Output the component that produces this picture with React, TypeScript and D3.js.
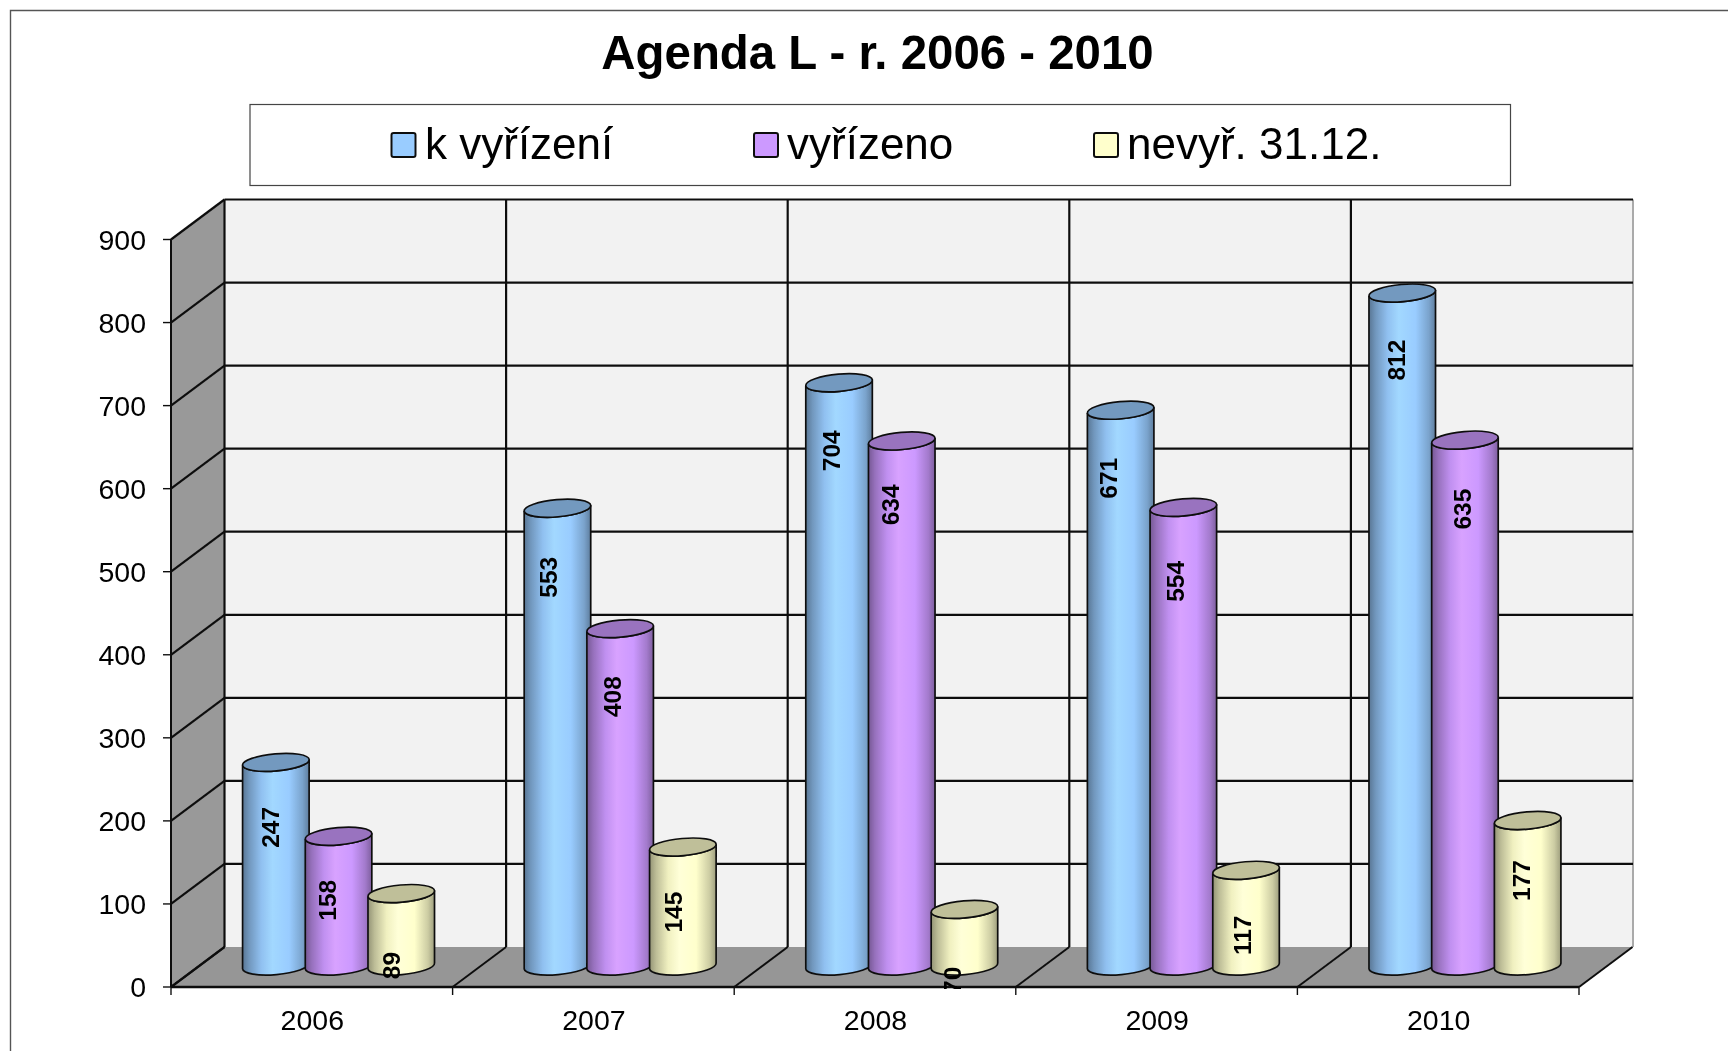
import React from "react";
import * as d3 from "d3";

const title = "Agenda L - r. 2006 - 2010";
const years = ["2006", "2007", "2008", "2009", "2010"];
const seriesNames = ["k vyřízení", "vyřízeno", "nevyř. 31.12."];
const kVyrizeni = [247, 553, 704, 671, 812];
const vyrizeno = [158, 408, 634, 554, 635];
const nevyr = [89, 145, 70, 117, 177];
const yTicks = [0, 100, 200, 300, 400, 500, 600, 700, 800, 900];

const seriesValues = [kVyrizeni, vyrizeno, nevyr];
const baseColors = ["#99ccff", "#cc99ff", "#ffffcc"];

// layout
const legendSwatchX = [391.5, 754, 1094];
const legendTextX = [425, 787, 1127];
const labelNudgeX = [[0, -6, -5], [-4, -3, -4], [-3, -6, -6.5], [-7, -3, 1], [-1, 3, -1]];
const labelNudgeY = [[-2, -3, 5], [2, 1, -2], [1, -3, 4], [1, 7, -2], [0, 2, -7]];

const FRONT_L = 171, FRONT_R = 1579, FRONT_B = 987, FRONT_T = 239.5;
const DX = 53.5, DY = -40;
const BAR_STEP = 62.7, RX = 33.4, RY = 8.6, TILT = 5;

const x = d3.scaleBand<string>().domain(years).range([FRONT_L, FRONT_R]).paddingInner(0).paddingOuter(0);
const y = d3.scaleLinear().domain([0, 900]).range([FRONT_B, FRONT_T]);
const sOff = d3.scaleLinear().domain([0, 2]).range([-BAR_STEP, BAR_STEP]);

const mult = (c: string, k: number) => {
  const r = d3.rgb(c);
  return d3.rgb(Math.min(255, r.r * k), Math.min(255, r.g * k), Math.min(255, r.b * k)).formatHex();
};

function Cylinder({ cx, base, top, color, id }: any) {
  const a = (TILT * Math.PI) / 180;
  const ex = RX * Math.cos(a), ey = RX * Math.sin(a);
  const d =
    `M${cx - ex},${top + ey} L${cx - ex},${base + ey} ` +
    `A${RX},${RY} ${-TILT} 0 0 ${cx + ex},${base - ey} ` +
    `L${cx + ex},${top - ey} A${RX},${RY} ${-TILT} 0 1 ${cx - ex},${top + ey} Z`;
  return (
    <g>
      <path d={d} fill={`url(#${id})`} stroke="#111" strokeWidth={1.7} />
      <ellipse cx={cx} cy={top} rx={RX} ry={RY} transform={`rotate(${-TILT} ${cx} ${top})`}
        fill={mult(color, 0.75)} stroke="#111" strokeWidth={1.7} />
    </g>
  );
}

export default function App() {
  const backL = FRONT_L + DX, backR = FRONT_R + DX + 0.5, backB = FRONT_B + DY, backT = FRONT_T + DY;
  const edges = [...years.map((c) => x(c) as number), FRONT_R];
  const font = "'Liberation Sans', Arial, sans-serif";
  return (
    <svg width={1728} height={1051} style={{ position: "absolute", left: 0, top: 0, display: "block", background: "#fff" }} fontFamily={font}>
      <defs>
        {baseColors.map((c, i) => (
          <linearGradient key={i} id={`g${i}`} x1="0" x2="1" y1="0" y2="0">
            <stop offset="0" stopColor={mult(c, 0.58)} />
            <stop offset="0.1" stopColor={mult(c, 0.74)} />
            <stop offset="0.28" stopColor={mult(c, 0.94)} />
            <stop offset="0.45" stopColor={mult(c, 1.06)} />
            <stop offset="0.7" stopColor={mult(c, 1.0)} />
            <stop offset="0.9" stopColor={mult(c, 0.8)} />
            <stop offset="1" stopColor={mult(c, 0.62)} />
          </linearGradient>
        ))}
        <clipPath id="labelClip"><rect x={0} y={0} width={1728} height={FRONT_B + 2} /></clipPath>
        <filter id="soft" x="0" y="0" width="100%" height="100%" filterUnits="userSpaceOnUse" primitiveUnits="userSpaceOnUse">
          <feGaussianBlur stdDeviation={0.45} />
        </filter>
      </defs>
      <rect width={1728} height={1051} fill="#fff" />
      <g filter="url(#soft)">
        <path d="M10.5,1051 V10.5 H1728" fill="none" stroke="#555" strokeWidth={1.4} />

        <text x={877.5} y={69} textAnchor="middle" fontSize={47.4} fontWeight="bold">{title}</text>

        <rect x={250} y={104.5} width={1260.5} height={81} fill="#fff" stroke="#444" strokeWidth={1.2} />
        {seriesNames.map((n, i) => (
          <g key={n}>
            <rect x={legendSwatchX[i]} y={133} width={24} height={24} rx={2} fill={baseColors[i]} stroke="#111" strokeWidth={2} />
            <text x={legendTextX[i]} y={158.7} fontSize={44}>{n}</text>
          </g>
        ))}

        <rect x={backL} y={backT} width={backR - backL} height={backB - backT} fill="#f2f2f2" />
        <polygon points={`${FRONT_L},${FRONT_T} ${backL},${backT} ${backL},${backB} ${FRONT_L},${FRONT_B}`} fill="#999999" />
        <polygon points={`${FRONT_L},${FRONT_B} ${backL},${backB} ${backR},${backB} ${FRONT_R},${FRONT_B}`} fill="#969696" />
        <line x1={backR} x2={backR} y1={backT} y2={backB} stroke="#aaa" strokeWidth={2} />

        {yTicks.map((t) => (
          <g key={t} stroke="#111" strokeWidth={2.2} fill="none">
            {t > 0 && <line x1={backL} x2={backR} y1={y(t) + DY} y2={y(t) + DY} />}
            <line x1={FRONT_L} x2={backL} y1={y(t)} y2={y(t) + DY} />
            <line x1={FRONT_L - 8} x2={FRONT_L} y1={y(t)} y2={y(t)} strokeWidth={1.4} />
          </g>
        ))}
        {edges.map((e, i) => (
          <g key={i} stroke="#111" fill="none">
            {i < edges.length - 1 && <line x1={e + DX} x2={e + DX} y1={backT} y2={backB} strokeWidth={2.2} />}
            <line x1={e} x2={e + DX} y1={FRONT_B} y2={backB} strokeWidth={2} />
            <line x1={e} x2={e} y1={FRONT_B} y2={FRONT_B + 8} strokeWidth={1.4} />
          </g>
        ))}
        <line x1={FRONT_L} x2={FRONT_L} y1={FRONT_T} y2={FRONT_B} stroke="#111" strokeWidth={2} />
        <line x1={FRONT_L} x2={FRONT_R} y1={FRONT_B} y2={FRONT_B} stroke="#111" strokeWidth={2.4} />

        {years.map((yr, ci) => {
          const center = (x(yr) as number) + x.bandwidth() / 2 + DX / 2;
          return (
            <g key={yr}>
              {seriesValues.map((vals, si) => (
                <Cylinder key={si} cx={center + sOff(si)} base={y(0) + DY / 2 - 1}
                  top={y(vals[ci]) + DY / 2 + 0.5} color={baseColors[si]} id={`g${si}`} />
              ))}
            </g>
          );
        })}
        <g clipPath="url(#labelClip)">
          {years.map((yr, ci) => {
            const center = (x(yr) as number) + x.bandwidth() / 2 + DX / 2;
            return seriesValues.map((vals, si) => {
              const lx = center + sOff(si) - 5 + labelNudgeX[ci][si];
              const ly = y(vals[ci]) + DY / 2 + 67.5 + labelNudgeY[ci][si];
              return (
                <text key={si} transform={`translate(${lx},${ly}) rotate(-90)`} textAnchor="middle" dominantBaseline="central"
                  fontSize={24.5} fontWeight="bold">{vals[ci]}</text>
              );
            });
          })}
        </g>

        {yTicks.map((t) => (
          <text key={t} x={FRONT_L - 25} y={y(t)} dy="0.36em" textAnchor="end" fontSize={28.5}>{t}</text>
        ))}
        {years.map((yr) => (
          <text key={yr} x={(x(yr) as number) + x.bandwidth() / 2 + 0.5} y={1030} textAnchor="middle" fontSize={28.5}>{yr}</text>
        ))}
      </g>
    </svg>
  );
}
